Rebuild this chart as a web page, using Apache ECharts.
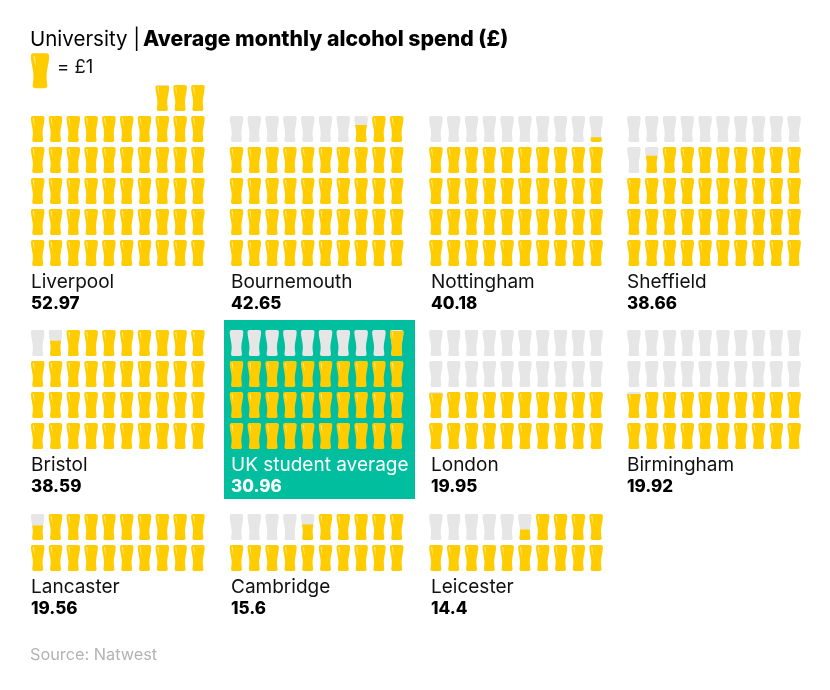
<!DOCTYPE html>
<html>
<head>
<meta charset="utf-8">
<title>Average monthly alcohol spend</title>
<script src="https://cdn.jsdelivr.net/npm/echarts@6/dist/echarts.min.js"></script>
<style>
  html, body { margin: 0; padding: 0; background: #fff; }
  #chart { width: 830px; height: 690px; }
</style>
</head>
<body>
<div id="chart"></div>
<script>
// data
const universities = ['Liverpool', 'Bournemouth', 'Nottingham', 'Sheffield', 'Bristol', 'UK student average', 'London', 'Birmingham', 'Lancaster', 'Cambridge', 'Leicester'];
const spend = [52.97, 42.65, 40.18, 38.66, 38.59, 30.96, 19.95, 19.92, 19.56, 15.6, 14.4];
const spendLabels = ['52.97', '42.65', '40.18', '38.66', '38.59', '30.96', '19.95', '19.92', '19.56', '15.6', '14.4'];
// how many glasses each block shows, filled or empty
const glassCounts = [53, 50, 50, 50, 40, 40, 40, 40, 20, 20, 20];

const YELLOW = '#FFCC00';
const GREY = '#E6E6E6';
const FONT = 'Inter';

const colW = 17.8, rowH = 31;
const panelLeft = [28.8, 227.6, 427, 625];
const labelLeft = [31, 231, 431, 627];
const panelBlocks = [
  { col: 0, top: 82.5 }, { col: 1, top: 113.5 }, { col: 2, top: 113.5 }, { col: 3, top: 113.5 },
  { col: 0, top: 327.5 }, { col: 1, top: 327.5 }, { col: 2, top: 327.5 }, { col: 3, top: 327.5 },
  { col: 0, top: 511.5 }, { col: 1, top: 511.5 }, { col: 2, top: 511.5 }
];
const labelY = { 82.5: 273, 113.5: 273, 327.5: 456, 511.5: 578 };

// half width of the glass from rim (t=0) to base (t=1), as share of the rim half width
const glassProfile = [
  [0, 0.72], [0.006, 0.82], [0.02, 0.92], [0.045, 0.98], [0.09, 1], [0.2, 0.97], [0.3, 0.91], [0.42, 0.82], [0.52, 0.76],
  [0.62, 0.72], [0.72, 0.72], [0.82, 0.76], [0.9, 0.8], [0.95, 0.8], [0.975, 0.76], [0.99, 0.68], [1, 0.55]
];

function halfWidthAt(t) {
  for (let i = 1; i < glassProfile.length; i++) {
    const a = glassProfile[i - 1], b = glassProfile[i];
    if (t <= b[0]) return a[1] + (b[1] - a[1]) * (t - a[0]) / (b[0] - a[0]);
  }
  return glassProfile[glassProfile.length - 1][1];
}

// outline of the part of the glass between t0 and the base
function glassPoints(cx, top, w, h, t0) {
  const ts = [t0];
  glassProfile.forEach(p => { if (p[0] > t0) ts.push(p[0]); });
  const right = ts.map(t => [cx + halfWidthAt(t) * w / 2, top + t * h]);
  const left = ts.map(t => [cx - halfWidthAt(t) * w / 2, top + t * h]).reverse();
  return right.concat(left);
}

function renderGlass(params, api) {
  const c = api.coord([api.value(0) + 0.5, api.value(1) + 0.5]);
  const size = api.size([1, 1]);
  const w = size[0] * 0.76, h = size[1] * 0.84;
  const top = c[1] - h / 2;
  const fill = api.value(2);
  const children = [];
  if (fill < 1) {
    children.push({ type: 'polygon', shape: { points: glassPoints(c[0], top, w, h, 0) }, style: { fill: GREY } });
  }
  if (fill > 0) {
    children.push({ type: 'polygon', shape: { points: glassPoints(c[0], top, w, h, 1 - fill) }, style: { fill: YELLOW } });
  }
  if (fill >= 0.9) {
    // pale streak down the left edge of the glass
    const x0 = c[0] - w * 0.37;
    children.push({
      type: 'polygon',
      shape: { points: [[x0, top + h * 0.09], [x0 + w * 0.1, top + h * 0.08], [x0 + w * 0.12, top + h * 0.24], [x0 + w * 0.16, top + h * 0.4], [x0 + w * 0.09, top + h * 0.3]] },
      style: { fill: '#FFE98F' }
    });
  }
  return { type: 'group', children: children };
}

const grid = [], xAxis = [], yAxis = [], series = [], title = [];

function addPictogram(left, top, cols, rows, cells) {
  const idx = grid.length;
  grid.push({ left: left, top: top, width: cols * colW, height: rows * rowH });
  xAxis.push({ type: 'value', gridIndex: idx, min: 0, max: cols, show: false });
  yAxis.push({ type: 'value', gridIndex: idx, min: 0, max: rows, inverse: true, show: false });
  series.push({
    type: 'custom', xAxisIndex: idx, yAxisIndex: idx, coordinateSystem: 'cartesian2d',
    renderItem: renderGlass, data: cells, silent: true, animation: false, clip: false, z: 2
  });
}

universities.forEach((name, i) => {
  const block = panelBlocks[i];
  const rows = Math.ceil(glassCounts[i] / 10);
  const cells = [];
  // glasses fill from the bottom row up, right to left
  for (let k = 0; k < glassCounts[i]; k++) {
    const fill = Math.max(0, Math.min(1, spend[i] - k));
    cells.push([9 - (k % 10), rows - 1 - Math.floor(k / 10), fill]);
  }
  addPictogram(panelLeft[block.col], block.top, 10, rows, cells);

  const isUk = name === 'UK student average';
  const y = labelY[block.top];
  title.push({
    text: name, left: labelLeft[block.col], top: y,
    textStyle: { fontFamily: FONT, fontSize: 19, fontWeight: 400, color: isUk ? '#fff' : '#111' }, padding: 0, z: 5
  });
  title.push({
    text: spendLabels[i], left: labelLeft[block.col], top: y + 22,
    textStyle: { fontFamily: FONT, fontSize: 17, fontWeight: 800, color: isUk ? '#fff' : '#000' }, padding: 0, z: 5
  });
});

// key glass next to "= £1"
grid.push({ left: 28, top: 50, width: 24, height: 41.5 });
xAxis.push({ type: 'value', gridIndex: grid.length - 1, min: 0, max: 1, show: false });
yAxis.push({ type: 'value', gridIndex: grid.length - 1, min: 0, max: 1, show: false });
series.push({
  type: 'custom', xAxisIndex: grid.length - 1, yAxisIndex: grid.length - 1,
  renderItem: renderGlass, data: [[0, 0, 1]], silent: true, animation: false, clip: false
});

title.push(
  { text: 'University | ', left: 30, top: 29, padding: 0, textStyle: { fontFamily: FONT, fontSize: 20.5, fontWeight: 400, color: '#000' } },
  { text: 'Average monthly alcohol spend (£)', left: 143, top: 29, padding: 0, textStyle: { fontFamily: FONT, fontSize: 21.2, fontWeight: 800, color: '#000' } },
  { text: '= £1', left: 57, top: 58, padding: 0, textStyle: { fontFamily: FONT, fontSize: 18.5, fontWeight: 400, color: '#111' } },
  { text: 'Source: Natwest', left: 30, top: 647, padding: 0, textStyle: { fontFamily: FONT, fontSize: 16.3, fontWeight: 400, color: '#b3b3b3' } }
);

const chart = echarts.init(document.getElementById('chart'));
chart.setOption({
  animation: false,
  backgroundColor: '#fff',
  title: title,
  grid: grid,
  xAxis: xAxis,
  yAxis: yAxis,
  series: series,
  graphic: [{
    type: 'rect', left: 224, top: 320, z: -1,
    shape: { width: 191, height: 179 },
    style: { fill: '#00BE9E' }
  }]
});
</script>
</body>
</html>
